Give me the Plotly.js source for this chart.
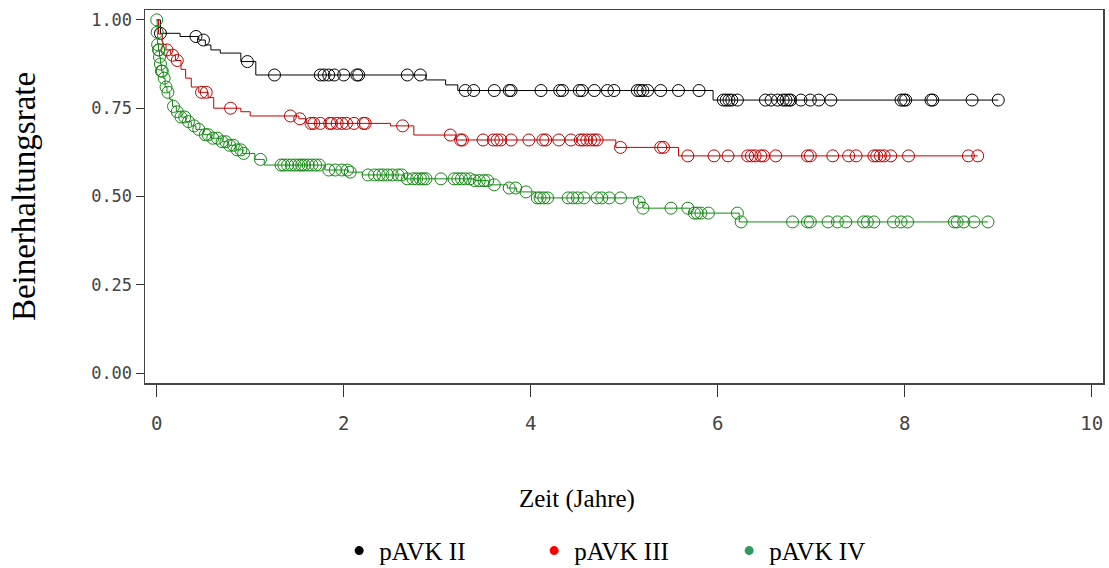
<!DOCTYPE html>
<html>
<head>
<meta charset="utf-8">
<script src="https://cdn.plot.ly/plotly-3.0.1.min.js"></script>
<style>html,body{margin:0;padding:0;background:#fff;}#chart{width:1109px;height:568px;}</style>
</head>
<body>
<div id="chart"></div>
<script>
// ---- Data (Kaplan-Meier step curves + censored times) ----
const groups = ["pAVK II", "pAVK III", "pAVK IV"];

// pAVK II
const stepTimesII = [0, 0.04, 0.25, 0.45, 0.52, 0.58, 0.68, 0.90, 1.06, 2.88, 3.09, 3.22, 5.95];
const survII      = [1.0, 0.962, 0.953, 0.943, 0.929, 0.915, 0.906, 0.882, 0.844, 0.830, 0.816, 0.800, 0.773];
const censorII = [0.04, 0.42, 0.50, 0.97, 1.26, 1.75, 1.79, 1.84, 1.90, 2.00, 2.14, 2.16, 2.68, 2.82,
  3.30, 3.39, 3.61, 3.77, 3.79, 4.11, 4.31, 4.34, 4.52, 4.55, 4.68, 4.82, 4.89, 5.14, 5.17, 5.20, 5.25,
  5.39, 5.58, 5.80, 6.06, 6.09, 6.12, 6.15, 6.21, 6.51, 6.57, 6.64, 6.70, 6.73, 6.76, 6.78, 6.89, 6.99,
  7.08, 7.21, 7.96, 7.99, 8.01, 8.28, 8.30, 8.72, 9.00];

// pAVK III
const stepTimesIII = [0, 0.02, 0.06, 0.10, 0.15, 0.20, 0.26, 0.31, 0.37, 0.45, 0.55, 0.61, 0.90, 1.00, 1.52, 1.60, 2.50, 2.75, 3.20, 4.91, 5.58];
const survIII      = [1.0, 0.96, 0.93, 0.915, 0.90, 0.885, 0.86, 0.835, 0.81, 0.795, 0.78, 0.750, 0.740, 0.728, 0.720, 0.707, 0.700, 0.674, 0.660, 0.639, 0.615];
const censorIII = [0.11, 0.17, 0.22, 0.48, 0.53, 0.79, 1.43, 1.53, 1.65, 1.68, 1.75, 1.85, 1.87, 1.93,
  1.98, 2.03, 2.11, 2.21, 2.23, 2.63, 3.14, 3.25, 3.27, 3.49, 3.60, 3.64, 3.68, 3.79, 3.98, 4.13, 4.16,
  4.30, 4.43, 4.53, 4.56, 4.60, 4.64, 4.68, 4.71, 4.96, 5.39, 5.42, 5.68, 5.96, 6.11, 6.32, 6.36, 6.40,
  6.46, 6.49, 6.62, 6.96, 6.99, 7.23, 7.40, 7.48, 7.67, 7.70, 7.74, 7.78, 7.85, 8.04, 8.68, 8.78];

// pAVK IV
const stepTimesIV = [0, 0.005, 0.01, 0.02, 0.03, 0.04, 0.05, 0.07, 0.09, 0.11, 0.14, 0.17, 0.21, 0.26,
  0.31, 0.37, 0.42, 0.50, 0.58, 0.70, 0.77, 0.85, 0.92, 1.05, 1.15, 1.80, 2.05, 2.20, 2.65, 3.40, 3.55,
  3.75, 3.85, 4.05, 5.15, 5.20, 5.70, 6.23];
const survIV      = [1.0, 0.965, 0.93, 0.915, 0.895, 0.875, 0.855, 0.835, 0.81, 0.795, 0.775, 0.755, 0.74, 0.725,
  0.712, 0.70, 0.69, 0.675, 0.665, 0.655, 0.645, 0.632, 0.622, 0.605, 0.589, 0.575, 0.569, 0.561, 0.550, 0.545, 0.533,
  0.524, 0.513, 0.496, 0.484, 0.467, 0.453, 0.428];
const censorIV = [0, 0.005, 0.01, 0.02, 0.025, 0.03, 0.04, 0.05, 0.06, 0.08, 0.10, 0.12, 0.18, 0.22, 0.26,
  0.30, 0.34, 0.40, 0.45, 0.52, 0.55, 0.60, 0.65, 0.70, 0.74, 0.78, 0.82, 0.86, 0.90, 0.93, 1.11, 1.33,
  1.36, 1.40, 1.44, 1.48, 1.52, 1.55, 1.58, 1.62, 1.66, 1.70, 1.74, 1.84, 1.91, 1.98, 2.04, 2.07, 2.26,
  2.33, 2.38, 2.42, 2.47, 2.52, 2.58, 2.62, 2.68, 2.74, 2.78, 2.82, 2.85, 2.88, 3.04, 3.18, 3.22, 3.26,
  3.30, 3.35, 3.40, 3.45, 3.50, 3.54, 3.61, 3.77, 3.84, 3.95, 4.07, 4.10, 4.14, 4.18, 4.40, 4.45, 4.50,
  4.57, 4.71, 4.76, 4.84, 4.96, 5.16, 5.20, 5.50, 5.68, 5.75, 5.78, 5.82, 5.90, 6.21, 6.25, 6.80, 6.96,
  6.99, 7.18, 7.28, 7.37, 7.56, 7.60, 7.67, 7.88, 7.96, 8.03, 8.53, 8.56, 8.63, 8.74, 8.89];

const xTickVals = [0, 2, 4, 6, 8, 10];
const yTickVals = [0, 0.25, 0.5, 0.75, 1.0];

const lineColors = ["#000000", "#c00000", "#138a13"];
const legendColors = ["#000000", "#ff0000", "#2e9b5e"];

// ---- helpers ----
function survAt(times, surv, t) {
  let v = surv[0];
  for (let i = 0; i < times.length; i++) { if (times[i] <= t) v = surv[i]; }
  return v;
}
function buildTraces(times, surv, cens, color) {
  const end = Math.max(times[times.length - 1], ...cens);
  const lx = times.concat([end]);
  const ly = surv.concat([surv[surv.length - 1]]);
  return [
    { x: lx, y: ly, mode: "lines", line: { shape: "hv", color: color, width: 1 }, showlegend: false, hoverinfo: "skip" },
    { x: cens, y: cens.map(t => survAt(times, surv, t)), mode: "markers",
      marker: { symbol: "circle-open", size: 12, color: color, line: { width: 1, color: color } }, showlegend: false }
  ];
}

const sets = [[stepTimesII, survII, censorII], [stepTimesIII, survIII, censorIII], [stepTimesIV, survIV, censorIV]];
let traces = [];
sets.forEach((s, i) => { traces = traces.concat(buildTraces(s[0], s[1], s[2], lineColors[i])); });
groups.forEach((g, i) => {
  traces.push({ x: [null], y: [null], mode: "markers", name: g,
    marker: { symbol: "circle", size: 9, color: legendColors[i] }, showlegend: true });
});

const tickFontY = { family: "DejaVu Sans Mono", size: 17, color: "#444" };
const tickFontX = { family: "DejaVu Sans Mono", size: 19, color: "#444" };

const layout = {
  width: 1109, height: 568,
  margin: { l: 145, r: 6, t: 10, b: 185, autoexpand: false },
  paper_bgcolor: "#fff", plot_bgcolor: "#fff",
  xaxis: {
    range: [-0.125, 10.12], tickvals: xTickVals, ticktext: xTickVals.map(String),
    ticks: "outside", ticklen: 12, tickwidth: 1, tickcolor: "#333",
    showline: true, mirror: true, linecolor: "#444", linewidth: 1.5,
    showgrid: false, zeroline: false, tickfont: tickFontX, ticklabelstandoff: 11
  },
  yaxis: {
    range: [-0.028, 1.028], tickvals: yTickVals, ticktext: yTickVals.map(v => v.toFixed(2)),
    ticks: "outside", ticklen: 8, tickwidth: 1, tickcolor: "#333",
    showline: true, mirror: true, linecolor: "#444", linewidth: 1.5,
    showgrid: false, zeroline: false, tickfont: tickFontY,
    title: { text: "Beinerhaltungsrate", font: { family: "Liberation Serif", size: 33, color: "#000" }, standoff: 45 }
  },
  legend: {
    orientation: "h", x: 0.508, xanchor: "center", y: -0.45, yanchor: "middle",
    font: { family: "Liberation Serif", size: 25, color: "#000" },
    entrywidth: 150, entrywidthmode: "pixels", bgcolor: "rgba(0,0,0,0)"
  },
  annotations: [{
    text: "Zeit (Jahre)", xref: "paper", yref: "paper", x: 0.451, y: -0.311,
    xanchor: "center", yanchor: "middle", showarrow: false,
    font: { family: "Liberation Serif", size: 25, color: "#000" }
  }],
  showlegend: true
};

Plotly.newPlot("chart", traces, layout, { staticPlot: true, displayModeBar: false });
</script>
</body>
</html>
